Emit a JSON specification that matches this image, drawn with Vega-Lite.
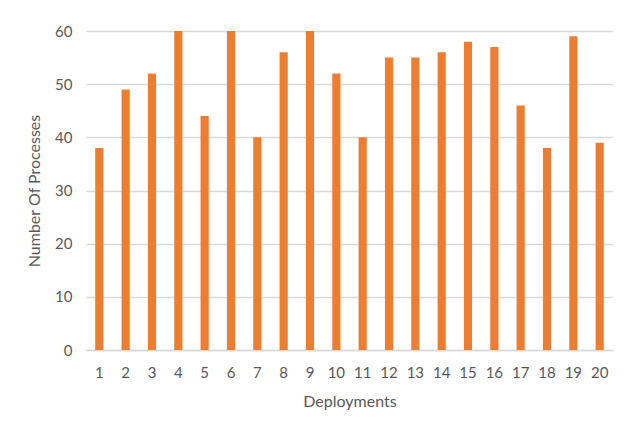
{
  "$schema": "https://vega.github.io/schema/vega-lite/v6.json",
  "width": 527,
  "height": 319,
  "autosize": {"type": "none"},
  "padding": {"left": 86, "top": 31, "right": 14, "bottom": 87},
  "background": "white",
  "config": {
    "view": {"stroke": null},
    "font": "Lato"
  },
  "data": {
    "values": [
      {"Deployment": 1, "Processes": 38},
      {"Deployment": 2, "Processes": 49},
      {"Deployment": 3, "Processes": 52},
      {"Deployment": 4, "Processes": 60},
      {"Deployment": 5, "Processes": 44},
      {"Deployment": 6, "Processes": 60},
      {"Deployment": 7, "Processes": 40},
      {"Deployment": 8, "Processes": 56},
      {"Deployment": 9, "Processes": 60},
      {"Deployment": 10, "Processes": 52},
      {"Deployment": 11, "Processes": 40},
      {"Deployment": 12, "Processes": 55},
      {"Deployment": 13, "Processes": 55},
      {"Deployment": 14, "Processes": 56},
      {"Deployment": 15, "Processes": 58},
      {"Deployment": 16, "Processes": 57},
      {"Deployment": 17, "Processes": 46},
      {"Deployment": 18, "Processes": 38},
      {"Deployment": 19, "Processes": 59},
      {"Deployment": 20, "Processes": 39}
    ]
  },
  "mark": {"type": "bar", "color": "#ED7D31"},
  "encoding": {
    "x": {
      "field": "Deployment",
      "type": "ordinal",
      "sort": null,
      "scale": {"paddingInner": 0.69, "paddingOuter": 0.35},
      "axis": {
        "title": "Deployments",
        "titleFont": "Lato",
        "titleFontSize": 16,
        "titleFontWeight": "normal",
        "titleColor": "#595959",
        "titlePadding": 13,
        "labelAngle": 0,
        "labelFontSize": 15,
        "labelColor": "#595959",
        "labelPadding": 15,
        "ticks": false,
        "domainColor": "#d9d9d9",
        "domainWidth": 1.5
      }
    },
    "y": {
      "field": "Processes",
      "type": "quantitative",
      "scale": {"domain": [0, 60]},
      "axis": {
        "title": "Number Of Processes",
        "titleFont": "Lato",
        "titleFontSize": 16,
        "titleFontWeight": "normal",
        "titleColor": "#595959",
        "titlePadding": 12,
        "values": [0, 10, 20, 30, 40, 50, 60],
        "labelFontSize": 15,
        "labelColor": "#595959",
        "labelPadding": 14,
        "ticks": false,
        "domain": false,
        "gridColor": "#d9d9d9",
        "gridWidth": 1.5
      }
    }
  }
}
